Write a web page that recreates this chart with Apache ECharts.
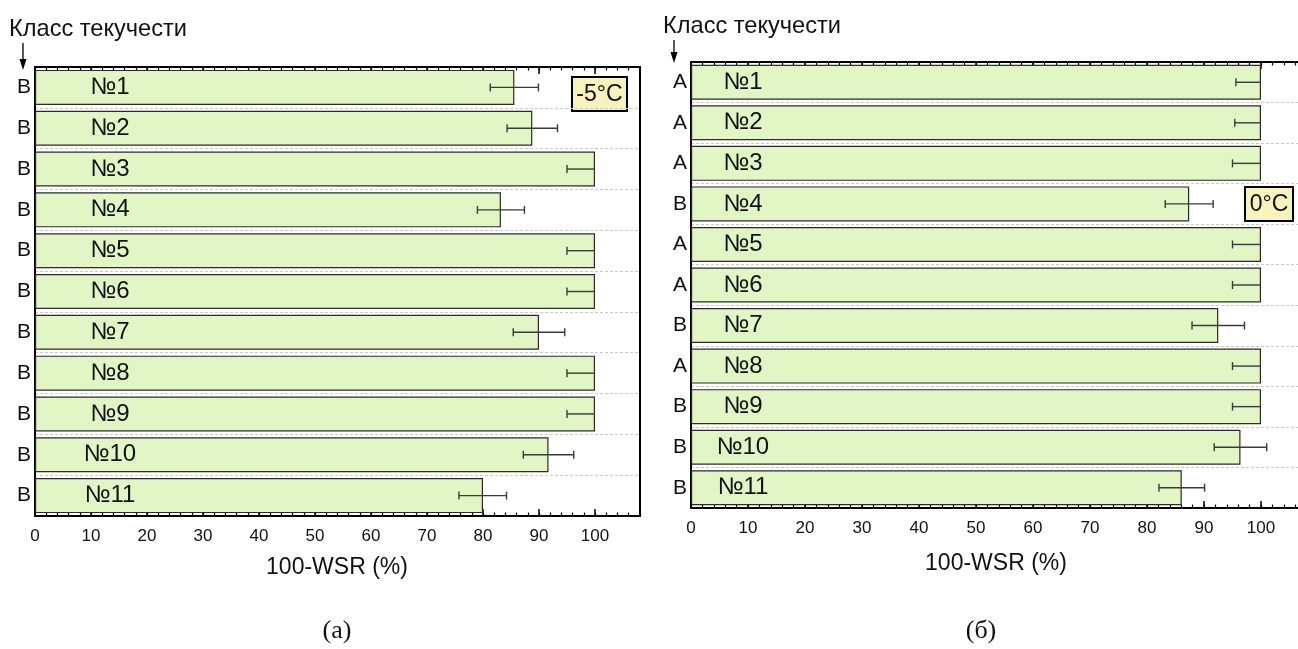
<!DOCTYPE html>
<html>
<head>
<meta charset="utf-8">
<title>100-WSR</title>
<script src="https://cdn.jsdelivr.net/npm/echarts@6/dist/echarts.min.js"></script>
<style>
  html, body { margin: 0; padding: 0; background: #fff; }
  #chart { width: 1298px; height: 649px; }
</style>
</head>
<body>
<div id="chart"></div>
<script>
// Samples (shared by both panels)
const samples = ['№1', '№2', '№3', '№4', '№5', '№6', '№7', '№8', '№9', '№10', '№11'];

// Panel (а): −5 °C
const classesA = ['В', 'В', 'В', 'В', 'В', 'В', 'В', 'В', 'В', 'В', 'В'];
const valuesA = [85.6, 88.8, 100, 83.2, 100, 100, 90.0, 100, 100, 91.7, 80.0];
const errLowA = [4.3, 4.5, 5.0, 4.2, 5.0, 5.0, 4.6, 5.0, 5.0, 4.5, 4.3];
const errHighA = [4.3, 4.5, 0, 4.2, 0, 0, 4.6, 0, 0, 4.5, 4.2];

// Panel (б): 0 °C
const classesB = ['А', 'А', 'А', 'В', 'А', 'А', 'В', 'А', 'В', 'В', 'В'];
const valuesB = [100, 100, 100, 87.4, 100, 100, 92.5, 100, 100, 96.4, 86.1];
const errLowB = [4.4, 4.6, 5.0, 4.2, 5.0, 5.0, 4.6, 5.0, 5.0, 4.6, 4.0];
const errHighB = [0, 0, 0, 4.2, 0, 0, 4.6, 0, 0, 4.6, 4.0];

// Axis ticks
const xMin = 0, xMax = 108, xMajor = 10, xMinor = 2;

const FONT = '"Liberation Sans", Arial, sans-serif';
const SERIF = '"Liberation Serif", "Times New Roman", serif';
const INK = '#111';
const BAR_FILL = '#e1f6c4';
const BOX_FILL = '#f8f2bd';

const panels = [
  { grid: { left: 35, top: 67, width: 604.8, height: 449 }, classes: classesA, values: valuesA,
    lo: errLowA, hi: errHighA, labelOffset: 75 },
  { grid: { left: 691, top: 62, width: 615.6, height: 446 }, classes: classesB, values: valuesB,
    lo: errLowB, hi: errHighB, labelOffset: 52 }
];

const grids = [], xAxes = [], yAxes = [], series = [];

panels.forEach((p, gi) => {
  grids.push(Object.assign({ outerBoundsMode: 'none', containLabel: false }, p.grid));
  const xBase = xAxes.length;
  // bottom: major ticks + labels
  xAxes.push({
    type: 'value', gridIndex: gi, position: 'bottom', min: xMin, max: xMax, interval: xMajor,
    axisLine: { show: true, onZero: false, lineStyle: { color: '#000', width: 2 } },
    axisTick: { show: true, inside: true, length: 7, lineStyle: { color: '#000', width: 1.5 } },
    axisLabel: { show: true, margin: 12, fontSize: 17, fontFamily: FONT, color: INK,
      formatter: v => (v <= 100 ? String(v) : '') },
    splitLine: { show: false }
  });
  // bottom: minor ticks
  xAxes.push({
    type: 'value', gridIndex: gi, position: 'bottom', min: xMin, max: xMax, interval: xMinor,
    axisLine: { show: false },
    axisTick: { show: true, inside: true, length: 3.5, lineStyle: { color: '#000', width: 1.2 } },
    axisLabel: { show: false }, splitLine: { show: false }
  });
  // top: major ticks
  xAxes.push({
    type: 'value', gridIndex: gi, position: 'top', min: xMin, max: xMax, interval: xMajor,
    axisLine: { show: true, onZero: false, lineStyle: { color: '#000', width: 2 } },
    axisTick: { show: true, inside: true, length: 7, lineStyle: { color: '#000', width: 1.5 } },
    axisLabel: { show: false }, splitLine: { show: false }
  });
  // top: minor ticks
  xAxes.push({
    type: 'value', gridIndex: gi, position: 'top', min: xMin, max: xMax, interval: xMinor,
    axisLine: { show: false },
    axisTick: { show: true, inside: true, length: 3.5, lineStyle: { color: '#000', width: 1.2 } },
    axisLabel: { show: false }, splitLine: { show: false }
  });

  const yBase = yAxes.length;
  yAxes.push({
    type: 'category', gridIndex: gi, position: 'left', inverse: true, data: samples,
    axisLine: { show: true, onZero: false, lineStyle: { color: '#000', width: 2 } },
    axisTick: { show: false },
    axisLabel: { show: true, margin: 4, fontSize: 21, fontFamily: FONT, color: INK,
      formatter: (v, i) => p.classes[i] },
    splitLine: { show: true, lineStyle: { color: '#c9c9c9', width: 1, type: [3, 2] } }
  });
  yAxes.push({
    type: 'category', gridIndex: gi, position: 'right', inverse: true, data: samples,
    axisLine: { show: true, onZero: false, lineStyle: { color: '#000', width: 2 } },
    axisTick: { show: false }, axisLabel: { show: false }, splitLine: { show: false }
  });

  series.push({
    type: 'bar', xAxisIndex: xBase, yAxisIndex: yBase, barWidth: 35,
    data: p.values,
    itemStyle: { color: BAR_FILL, borderColor: '#2b2b2b', borderWidth: 1.2 },
    label: {
      show: true, position: [p.labelOffset, '50%'], align: 'center', verticalAlign: 'middle',
      formatter: '{b}', fontSize: 24, fontFamily: FONT, color: INK
    },
    emphasis: { disabled: true },
    z: 2
  });

  series.push({
    type: 'custom', xAxisIndex: xBase, yAxisIndex: yBase,
    data: p.values.map((v, i) => [v, i, p.lo[i], p.hi[i]]),
    encode: { x: 0, y: 1 },
    renderItem: (params, api) => {
      const v = api.value(0), idx = api.value(1), lo = api.value(2), hi = api.value(3);
      const a = api.coord([v - lo, idx]);
      const b = api.coord([v + hi, idx]);
      const cap = 4;
      const style = { stroke: '#3a3a3a', lineWidth: 1.4 };
      const children = [{ type: 'line', shape: { x1: a[0], y1: a[1], x2: b[0], y2: b[1] }, style }];
      if (lo > 0) children.push({ type: 'line', shape: { x1: a[0], y1: a[1] - cap, x2: a[0], y2: a[1] + cap }, style });
      if (hi > 0) children.push({ type: 'line', shape: { x1: b[0], y1: b[1] - cap, x2: b[0], y2: b[1] + cap }, style });
      return { type: 'group', children };
    },
    z: 3
  });
});

function arrow(x, y1, y2) {
  return [
    { type: 'line', shape: { x1: x, y1: y1, x2: x, y2: y2 - 8 }, style: { stroke: '#000', lineWidth: 1.3 } },
    { type: 'polygon', shape: { points: [[x - 3.5, y2 - 11], [x + 3.5, y2 - 11], [x, y2]] }, style: { fill: '#000' } }
  ];
}

function tagBox(x, y, w, h, text) {
  return {
    type: 'group', children: [
      { type: 'rect', shape: { x: x, y: y, width: w, height: h }, style: { fill: BOX_FILL, stroke: '#000', lineWidth: 2 } },
      { type: 'text', style: { x: x + w / 2, y: y + h / 2 + 1, text: text, align: 'center', verticalAlign: 'middle',
        fontSize: 23, fontFamily: FONT, fill: INK } }
    ], z: 10
  };
}

function caption(x, y, text, size, family, align) {
  return { type: 'text', style: { x: x, y: y, text: text, align: align || 'center', verticalAlign: 'middle',
    fontSize: size, fontFamily: family, fill: INK } };
}

const graphic = [
  caption(9, 29, 'Класс текучести', 23.6, FONT, 'left'),
  caption(663, 26, 'Класс текучести', 23.6, FONT, 'left'),
  ...arrow(23, 43, 70),
  ...arrow(674, 40, 63),
  tagBox(572, 77, 55, 34, '-5°C'),
  tagBox(1245, 187, 48, 34, '0°C'),
  caption(337, 568, '100-WSR (%)', 23, FONT),
  caption(996, 564, '100-WSR (%)', 23, FONT),
  caption(337, 631, '(а)', 26, SERIF),
  caption(981, 631, '(б)', 26, SERIF)
];

const chart = echarts.init(document.getElementById('chart'), null, { renderer: 'canvas' });
chart.setOption({
  animation: false,
  backgroundColor: '#fff',
  textStyle: { fontFamily: FONT },
  grid: grids,
  xAxis: xAxes,
  yAxis: yAxes,
  series: series,
  graphic: graphic
});
</script>
</body>
</html>
